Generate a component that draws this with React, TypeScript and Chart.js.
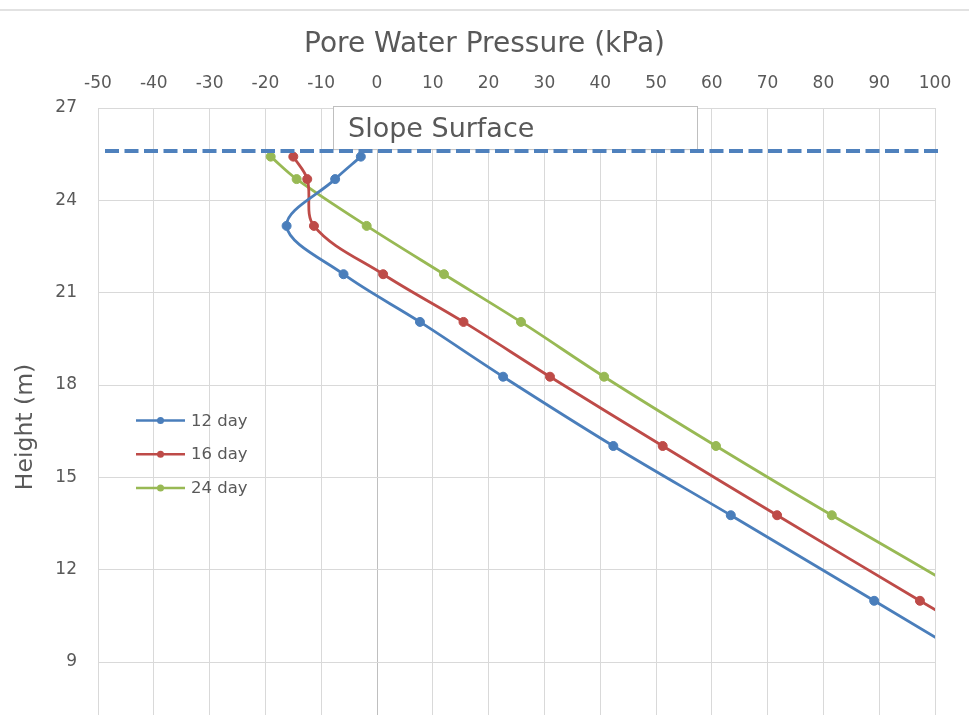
import { useEffect, useRef } from "react";
import { Chart, registerables } from "chart.js";

Chart.register(...registerables);

// Height of each measuring point (m); the last ones lie beyond the 100 kPa edge
const heights = [25.42, 24.69, 23.17, 21.6, 20.05, 18.27, 16.02, 13.77, 10.99, 8.23];
// Pore water pressure (kPa) at each height
const pressure12 = [-2.9, -7.5, -16.2, -6.0, 7.7, 22.6, 42.35, 63.4, 89.1, 114.5];
const pressure16 = [-15.0, -12.5, -11.3, 1.1, 15.5, 31.0, 51.2, 71.7, 97.3, 123.0];
const pressure24 = [-19.05, -14.4, -1.85, 12.0, 25.8, 40.7, 60.75, 81.5, 108.0, 134.0];

const seriesLabels = ["12 day", "16 day", "24 day"];
const seriesColors = ["#4A7EBB", "#BE4B48", "#98B954"];

const yTicks = [9, 12, 15, 18, 21, 24, 27];
const slopeSurfaceLevel = 25.6;
const slopeSurfaceText = "Slope Surface";
const heightTitle = "Height (m)";

const FONT = "'DejaVu Sans', sans-serif";
const TEXT = "#595959";
const GRID = "#d9d9d9";

const toPoints = (xs: number[]) => xs.map((x, i) => ({ x, y: heights[i] }));

const decorations = {
  id: "decorations",
  beforeDatasetsDraw(chart: any) {
    const { ctx, chartArea, scales } = chart;
    const y = scales.y.getPixelForValue(slopeSurfaceLevel);
    const left = chartArea.left + 235;
    const right = chartArea.left + 599;
    const top = chartArea.top - 2;
    const bottom = y - 2;
    ctx.save();
    ctx.fillStyle = "#ffffff";
    ctx.fillRect(left, top, right - left, bottom - top);
    ctx.strokeStyle = "#bfbfbf";
    ctx.lineWidth = 1;
    ctx.strokeRect(left + 0.5, top + 0.5, right - left, bottom - top);
    ctx.fillStyle = TEXT;
    ctx.font = `27px ${FONT}`;
    ctx.textBaseline = "middle";
    ctx.textAlign = "left";
    ctx.fillText(slopeSurfaceText, left + 15, (top + bottom) / 2 + 2);
    ctx.restore();
  },
  afterDatasetsDraw(chart: any) {
    const { ctx, chartArea, scales } = chart;
    const y = scales.y.getPixelForValue(slopeSurfaceLevel);
    ctx.save();
    ctx.strokeStyle = "#4F81BD";
    ctx.lineWidth = 4;
    ctx.setLineDash([14, 5.5]);
    ctx.beginPath();
    ctx.moveTo(chartArea.left + 7, y);
    ctx.lineTo(chartArea.right + 3, y);
    ctx.stroke();
    ctx.restore();
  },
  afterDraw(chart: any) {
    const { ctx, width, chartArea } = chart;
    ctx.save();
    // outer frame rule along the top
    ctx.strokeStyle = GRID;
    ctx.lineWidth = 1.5;
    ctx.beginPath();
    ctx.moveTo(0, 10);
    ctx.lineTo(width, 10);
    ctx.stroke();

    // vertical axis title
    ctx.save();
    ctx.translate(26, chartArea.top + 319);
    ctx.rotate(-Math.PI / 2);
    ctx.fillStyle = TEXT;
    ctx.font = `23.5px ${FONT}`;
    ctx.textAlign = "center";
    ctx.textBaseline = "middle";
    ctx.fillText(heightTitle, 0, 0);
    ctx.restore();

    // legend inside the plot area
    const x0 = chartArea.left + 38;
    const rows = [420.5, 454.2, 488];
    chart.data.datasets.forEach((ds: any, i: number) => {
      const ry = rows[i];
      ctx.strokeStyle = ds.borderColor;
      ctx.lineWidth = 2.5;
      ctx.beginPath();
      ctx.moveTo(x0, ry);
      ctx.lineTo(x0 + 49, ry);
      ctx.stroke();
      ctx.fillStyle = ds.borderColor;
      ctx.beginPath();
      ctx.arc(x0 + 24.5, ry, 3.5, 0, Math.PI * 2);
      ctx.fill();
      ctx.fillStyle = TEXT;
      ctx.font = `16.5px ${FONT}`;
      ctx.textBaseline = "middle";
      ctx.textAlign = "left";
      ctx.fillText(ds.label, x0 + 55, ry + 1);
    });
    ctx.restore();
  },
};

export default function App() {
  const ref = useRef<HTMLCanvasElement>(null);

  useEffect(() => {
    const series = [pressure12, pressure16, pressure24];
    const chart = new Chart(ref.current!, {
      type: "line",
      data: {
        datasets: series.map((s, i) => ({
          label: seriesLabels[i],
          data: toPoints(s),
          borderColor: seriesColors[i],
          backgroundColor: seriesColors[i],
          pointBackgroundColor: seriesColors[i],
          pointBorderColor: seriesColors[i],
          pointRadius: 4.5,
          pointBorderWidth: 1,
          borderWidth: 2.8,
          tension: 0.35,
          clip: 0,
          fill: false,
          xAxisID: "x",
          yAxisID: "y",
        })),
      },
      options: {
        responsive: false,
        animation: false,
        events: [],
        layout: { padding: 0, autoPadding: false },
        elements: { line: { capBezierPoints: false } },
        plugins: {
          legend: { display: false },
          tooltip: { enabled: false },
          title: {
            display: true,
            text: "Pore Water Pressure (kPa)",
            color: TEXT,
            font: { family: FONT, size: 28, weight: "normal" },
            padding: { top: 27.5, bottom: 0 },
          },
        },
        scales: {
          x: {
            type: "linear",
            position: "top",
            min: -50,
            max: 100,
            afterFit: (s: any) => {
              s.height = 108 - (27.5 + 28 * 1.2);
            },
            ticks: {
              stepSize: 10,
              autoSkip: false,
              maxRotation: 0,
              color: TEXT,
              padding: 14,
              font: { family: FONT, size: 17 },
            },
            grid: {
              color: (c: any) => (c.tick && c.tick.value === 0 ? "#bfbfbf" : GRID),
              lineWidth: 1,
              drawTicks: false,
            },
            border: { color: GRID },
          },
          y: {
            type: "linear",
            position: "left",
            min: 7.28,
            max: 27,
            afterFit: (s: any) => {
              s.width = 98;
              s.paddingTop = 0;
              s.paddingBottom = 0;
            },
            afterBuildTicks: (s: any) => {
              s.ticks = yTicks.map((v) => ({ value: v }));
            },
            ticks: {
              color: TEXT,
              padding: 21,
              font: { family: FONT, size: 17 },
            },
            grid: { color: GRID, lineWidth: 1, drawTicks: false },
            border: { color: GRID },
          },
          // empty margin on the right of the plot
          yRight: {
            type: "linear",
            position: "right",
            display: true,
            afterFit: (s: any) => {
              s.width = 34;
              s.paddingTop = 0;
              s.paddingBottom = 0;
            },
            ticks: { display: false },
            grid: { display: false, drawTicks: false },
            border: { display: false },
          },
        },
      },
      plugins: [decorations],
    } as any);
    return () => chart.destroy();
  }, []);

  return (
    <div
      style={{
        position: "absolute",
        left: 0,
        top: 0,
        width: 969,
        height: 715,
        overflow: "hidden",
        background: "#ffffff",
      }}
    >
      <canvas ref={ref} width={969} height={715} style={{ display: "block" }} />
    </div>
  );
}
